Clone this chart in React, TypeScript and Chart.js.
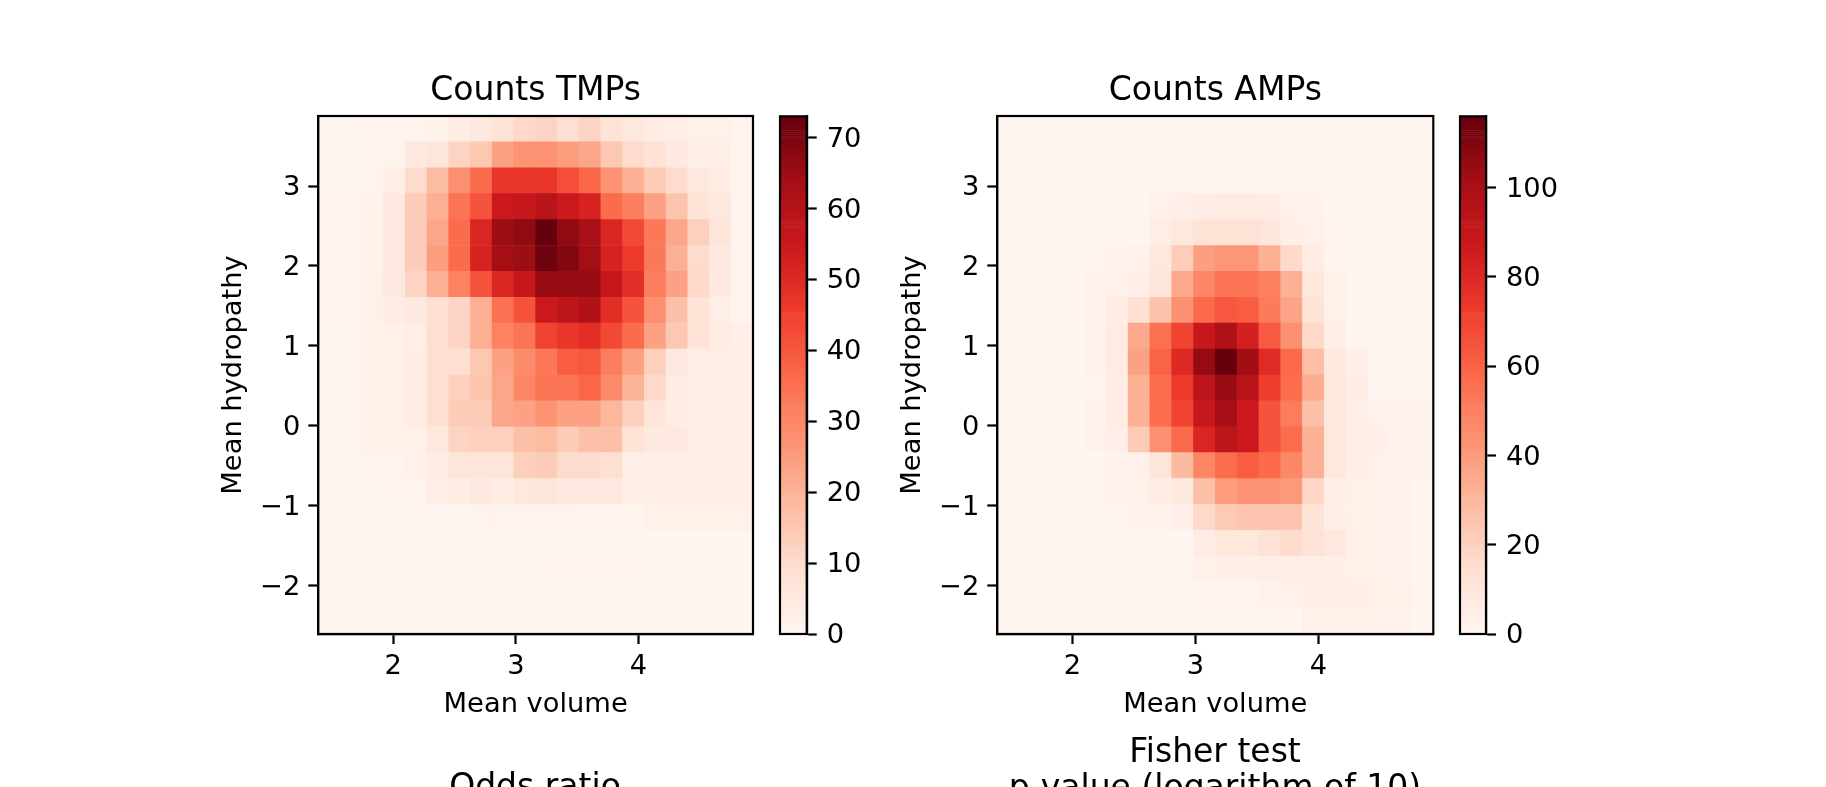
import React, { useEffect, useRef } from "react";
import { Chart, registerables } from "chart.js";

Chart.register(...registerables);

const W = 1826;
const H = 787;
const FONT = "'DejaVu Sans'";
const TITLE_SIZE = 33;
const LABEL_SIZE = 27.3;

const xRange = [1.389, 4.934];
const yRange = [3.876, -2.604];
const xTicks = [2, 3, 4];
const yTicks = [3, 2, 1, 0, -1, -2];
const tmpBarTicks = [0, 10, 20, 30, 40, 50, 60, 70];
const ampBarTicks = [0, 20, 40, 60, 80, 100];
const tmpMax = 73;
const ampMax = 116;

const tmpCounts = [
  [0, 0, 0.5, 1, 1, 1.5, 3.5, 5, 8, 11, 12, 9, 12, 8, 6, 4, 3, 2, 2, 1],
  [0, 0, 0.5, 1, 5, 7, 12, 15, 24, 27, 27, 25, 23, 15, 10, 8, 5, 3, 3, 1],
  [0, 0, 1, 3, 10, 18, 28, 36, 47, 47, 47, 42, 37, 27, 21, 14, 10, 6, 3.5, 1],
  [1, 1, 1.5, 5, 14, 21, 34, 41, 55, 56, 59, 55, 52, 36, 32, 24, 16, 8, 6, 1],
  [1, 1, 1.5, 5, 14, 23, 36, 51, 65, 67, 73, 67, 63, 51, 43, 33, 23, 13, 7, 1],
  [1, 1, 1.5, 5, 14, 25, 36, 52, 64, 65, 72, 69, 64, 52, 46, 33, 21, 10, 5, 1],
  [1, 1, 2, 5, 12, 21, 31, 41, 51, 56, 66, 66, 66, 56, 49, 32, 24, 11, 5, 1],
  [1, 1, 2, 4, 5, 9, 12, 21, 35, 41, 55, 58, 61, 49, 41, 28, 17, 8, 3, 1],
  [0, 1, 1.5, 2, 3, 9, 12, 21, 31, 34, 44, 47, 49, 43, 36, 24, 15, 8, 4, 2.5],
  [0, 1, 2, 2, 4, 9, 9, 15, 24, 29, 33, 39, 40, 32, 24, 13, 5, 3, 3, 2.5],
  [0, 1, 2, 2, 4, 9, 13, 16, 23, 30, 34, 34, 37, 29, 20, 11, 4, 3, 3, 2.5],
  [0, 1, 1.5, 2, 4, 9, 14, 14, 23, 24, 27, 24, 24, 19, 13, 7, 4, 3, 3, 2.5],
  [0, 1, 1.5, 1.5, 2, 6, 12, 13, 13, 17, 18, 14, 17, 17, 8, 5, 5, 3, 2.5, 2.5],
  [0, 0, 1, 1, 2, 4, 7, 7, 7, 13, 14, 10, 10, 9, 3, 3, 3, 2.5, 2.5, 2.5],
  [0, 0, 0, 1, 1, 3, 4, 5, 4, 6, 7, 5, 5, 5, 3, 2.5, 2.5, 2.5, 2.5, 2.5],
  [0, 0, 0, 0, 0, 0, 0, 1, 1, 1, 1, 1, 0.5, 0.5, 0.5, 2, 2, 2, 2, 2],
  [0, 0, 0, 0, 0, 0, 0, 0, 0, 0, 0, 0, 0, 0, 0, 0, 0, 0, 0, 0],
  [0, 0, 0, 0, 0, 0, 0, 0, 0, 0, 0.5, 0.5, 0.5, 0.5, 0.5, 0, 0, 0, 0, 0],
  [0, 0, 0, 0, 0, 0, 0, 0, 0, 0, 0, 0, 0, 0, 0, 0, 0, 0, 0, 0],
  [0, 0, 0, 0, 0, 0, 0, 0, 0, 0, 0, 0, 0, 0, 0, 0, 0, 0, 0, 0],
];

const ampCounts = [
  [0, 0, 0, 0, 0, 0, 0, 0, 0, 0, 0, 0, 0, 0, 0, 0, 0, 0, 0, 0],
  [0, 0, 0, 0, 0, 0, 0, 0, 0, 0, 0, 0, 0, 0, 0, 0, 0, 0, 0, 0],
  [0, 0, 0, 0, 0, 0, 0, 0, 0, 0, 0, 0, 0, 0, 0, 0, 0, 0, 0, 0],
  [0, 0, 0, 0, 0, 0, 0, 3, 4, 6, 7, 7, 6, 3, 2, 0, 0, 0, 0, 0],
  [0, 0, 0, 0, 0, 0, 0, 5, 10, 12, 13, 13, 11, 4, 3, 1, 0, 0, 0, 0],
  [0, 0, 0, 0, 1, 2, 3, 9, 22, 39, 42, 42, 33, 17, 6, 1, 0, 0, 0, 0],
  [0, 0, 0, 1, 2, 3, 4, 11, 35, 48, 54, 54, 50, 33, 10, 3, 0, 0, 0, 0],
  [0, 0, 0, 1, 2, 6, 14, 26, 44, 58, 64, 62, 52, 37, 12, 3, 0, 0, 0, 0],
  [0, 0, 0, 0, 2, 7, 35, 56, 70, 88, 98, 84, 63, 44, 17, 5, 0, 0, 0, 0],
  [0, 0, 0, 0, 2, 7, 38, 60, 80, 105, 116, 102, 79, 58, 28, 8, 4, 0, 0, 0],
  [0, 0, 0, 0, 1, 6, 33, 57, 73, 93, 104, 94, 72, 57, 34, 10, 6, 0, 0, 0],
  [0, 0, 0, 0, 2, 6, 33, 57, 70, 89, 101, 87, 65, 51, 27, 9, 5, 2, 2, 2],
  [0, 0, 0, 0, 2, 4, 23, 44, 58, 81, 92, 87, 65, 57, 33, 10, 5, 4, 2, 2],
  [0, 0, 0, 0, 0, 2, 3, 11, 29, 48, 57, 62, 58, 47, 33, 9, 5, 3, 2, 2],
  [0, 0, 0, 0, 0, 2, 3, 6, 8, 27, 40, 43, 43, 41, 18, 5, 3, 3, 2, 1],
  [0, 0, 0, 0, 0, 0, 2, 2, 4, 17, 23, 25, 25, 25, 12, 5, 3, 3, 2, 1],
  [0, 0, 0, 0, 0, 0, 0, 0, 0, 6, 10, 10, 13, 16, 13, 9, 3, 3, 2, 1],
  [0, 0, 0, 0, 0, 0, 0, 0, 0, 3, 4, 4, 5, 5, 5, 4, 3, 3, 2, 1],
  [0, 0, 0, 0, 0, 0, 0, 0, 0, 1, 1, 1, 2, 3, 4, 4, 4, 3, 3, 1],
  [0, 0, 0, 0, 0, 0, 0, 0, 0, 0, 0, 0, 0, 1, 3, 3, 3, 3, 2, 0],
];

const redsStops = [
  [255, 245, 240],
  [254, 224, 210],
  [252, 187, 161],
  [252, 146, 114],
  [251, 106, 74],
  [239, 59, 44],
  [203, 24, 29],
  [165, 15, 21],
  [103, 0, 13],
];

function reds(t: number) {
  const p = Math.max(0, Math.min(1, t)) * (redsStops.length - 1);
  const i = Math.min(Math.floor(p), redsStops.length - 2);
  const f = p - i;
  const c = redsStops[i].map((v, k) => Math.round(v + (redsStops[i + 1][k] - v) * f));
  return `rgb(${c[0]},${c[1]},${c[2]})`;
}

const framePlugin = {
  id: "frame",
  afterDraw(chart: any) {
    const { ctx, chartArea: a } = chart;
    ctx.save();
    ctx.strokeStyle = "#000";
    ctx.lineWidth = 2.2;
    ctx.strokeRect(a.left, a.top, a.right - a.left, a.bottom - a.top);
    ctx.restore();
  },
};

const tickFont = { family: FONT, size: LABEL_SIZE };
const axisLine = {
  border: { display: true, width: 2.2, color: "#000" },
  grid: {
    display: true,
    offset: false,
    drawOnChartArea: false,
    drawTicks: true,
    tickLength: 10,
    tickWidth: 2.2,
    tickColor: "#000",
    color: "#000",
  },
};
const fixTicks = (vals: number[]) => (axis: any) => {
  axis.ticks = vals.map((value) => ({ value }));
};
const minus = (v: any) => String(v).replace("-", "\u2212");

function heatmapConfig(title: string, rows: number[][], vmax: number, left: number, right: number) {
  const nr = rows.length;
  const nc = rows[0].length;
  const dx = (xRange[1] - xRange[0]) / nc;
  const dy = (yRange[1] - yRange[0]) / nr;
  const points: any[] = [];
  const colors: string[] = [];
  rows.forEach((row, r) =>
    row.forEach((v, c) => {
      points.push({ x: xRange[0] + (c + 0.5) * dx, y: [yRange[0] + (r + 1) * dy, yRange[0] + r * dy] });
      colors.push(reds(v / vmax));
    })
  );
  return {
    type: "bar",
    data: {
      datasets: [
        { data: points, backgroundColor: colors, borderWidth: 0, categoryPercentage: 1, barPercentage: 1 },
      ],
    },
    options: {
      responsive: false,
      animation: false,
      events: [],
      layout: { padding: { left: 0, right: W - right, top: 0, bottom: 0 } },
      plugins: {
        legend: { display: false },
        tooltip: { enabled: false },
        title: {
          display: true,
          text: title,
          color: "#000",
          fullSize: false,
          font: { family: FONT, size: TITLE_SIZE, weight: "normal" },
          padding: { top: 116 - TITLE_SIZE * 1.2 - 4.5, bottom: 4.5 },
        },
      },
      scales: {
        x: {
          type: "linear",
          offset: false,
          min: xRange[0],
          max: xRange[1],
          ...axisLine,
          afterBuildTicks: fixTicks(xTicks),
          afterFit: (s: any) => {
            s.height = H - 634;
          },
          ticks: { font: tickFont, color: "#000", padding: 7, maxRotation: 0, autoSkip: false },
          title: {
            display: true,
            text: "Mean volume",
            color: "#000",
            font: tickFont,
            padding: { top: 0, bottom: 82 - (LABEL_SIZE * 1.2) / 2 },
          },
        },
        y: {
          type: "linear",
          min: yRange[1],
          max: yRange[0],
          ...axisLine,
          afterBuildTicks: fixTicks(yTicks),
          afterFit: (s: any) => {
            s.width = left;
          },
          ticks: { font: tickFont, color: "#000", padding: 8, labelOffset: 2, autoSkip: false, callback: minus },
          title: {
            display: true,
            text: "Mean hydropathy",
            color: "#000",
            font: tickFont,
            padding: { top: left - 84 - (LABEL_SIZE * 1.2) / 2, bottom: 0 },
          },
        },
      },
    },
    plugins: [framePlugin],
  };
}

function colorbarConfig(vmax: number, ticks: number[], left: number, right: number) {
  const levels = 256;
  const points: any[] = [];
  const colors: string[] = [];
  for (let i = 0; i < levels; i++) {
    points.push({ y: ((i + 0.5) / levels) * vmax, x: [0, 1] });
    colors.push(reds((i + 0.5) / levels));
  }
  return {
    type: "bar",
    data: {
      datasets: [
        { data: points, backgroundColor: colors, borderWidth: 0, categoryPercentage: 1, barPercentage: 1 },
      ],
    },
    options: {
      indexAxis: "y",
      responsive: false,
      animation: false,
      events: [],
      layout: { padding: { left, right: 0, top: 116.3, bottom: H - 634 } },
      plugins: { legend: { display: false }, tooltip: { enabled: false } },
      scales: {
        x: { type: "linear", display: false, min: 0, max: 1 },
        y: {
          type: "linear",
          position: "right",
          offset: false,
          min: 0,
          max: vmax,
          ...axisLine,
          afterBuildTicks: fixTicks(ticks),
          afterFit: (s: any) => {
            s.width = W - right;
          },
          ticks: { font: tickFont, color: "#000", padding: 10, labelOffset: 2, autoSkip: false },
        },
      },
    },
    plugins: [framePlugin],
  };
}

function titleOnlyConfig(text: string | string[], center: number, top: number, lineHeight: number) {
  return {
    type: "bar",
    data: { datasets: [] },
    options: {
      responsive: false,
      animation: false,
      events: [],
      layout: { padding: { left: center - 217.5, right: W - center - 217.5, top: 0, bottom: 0 } },
      plugins: {
        legend: { display: false },
        tooltip: { enabled: false },
        title: {
          display: true,
          text,
          color: "#000",
          fullSize: false,
          font: { family: FONT, size: TITLE_SIZE, weight: "normal", lineHeight },
          padding: { top, bottom: 0 },
        },
      },
      scales: { x: { display: false }, y: { display: false } },
    },
  };
}

const panels = [
  { h: H, make: () => heatmapConfig("Counts TMPs", tmpCounts, tmpMax, 318.3, 753) },
  { h: H, make: () => colorbarConfig(tmpMax, tmpBarTicks, 780, 806.7) },
  { h: H, make: () => heatmapConfig("Counts AMPs", ampCounts, ampMax, 997.3, 1433.3) },
  { h: H, make: () => colorbarConfig(ampMax, ampBarTicks, 1460, 1486) },
  { h: 900, make: () => titleOnlyConfig("Odds ratio", 535, 769, 1.2) },
  { h: 900, make: () => titleOnlyConfig(["Fisher test", "p-value (logarithm of 10)"], 1215, 735, 1.1) },
];

function Panel({ h, make }: { h: number; make: () => any }) {
  const ref = useRef<HTMLCanvasElement>(null);
  useEffect(() => {
    const chart = new Chart(ref.current as HTMLCanvasElement, make());
    return () => chart.destroy();
  }, []);
  return <canvas ref={ref} width={W} height={h} style={{ position: "absolute", left: 0, top: 0, width: W, height: h }} />;
}

export default function App() {
  return (
    <div style={{ position: "fixed", left: 0, top: 0, width: W, height: H, overflow: "hidden", background: "#fff" }}>
      {panels.map((p, i) => (
        <Panel key={i} h={p.h} make={p.make} />
      ))}
    </div>
  );
}
